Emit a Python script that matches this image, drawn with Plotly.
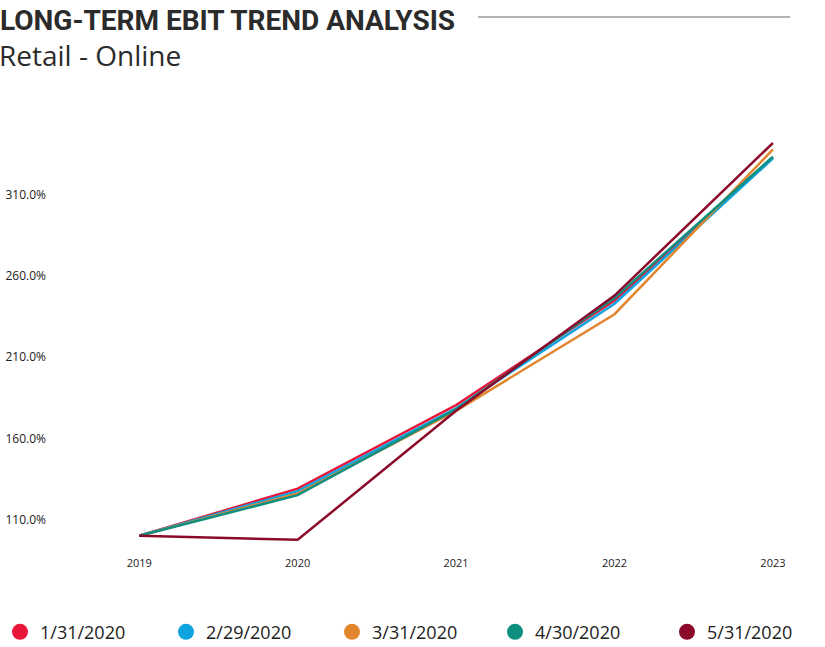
import plotly.graph_objects as go

years = ["2019", "2020", "2021", "2022", "2023"]
series_names = ["1/31/2020", "2/29/2020", "3/31/2020", "4/30/2020", "5/31/2020"]
s_jan = [100.0, 129.0, 180.5, 245.0, 333.0]
s_feb = [100.0, 127.5, 178.5, 243.0, 332.5]
s_mar = [100.0, 126.0, 177.0, 236.5, 338.0]
s_apr = [100.0, 125.0, 178.0, 246.5, 333.5]
s_may = [100.0, 97.5, 177.0, 248.0, 342.0]
tick_vals = [110, 160, 210, 260, 310]
tick_text = ["110.0%", "160.0%", "210.0%", "260.0%", "310.0%"]

colors = ["#E8173A", "#0FA3E0", "#E2862E", "#0F8F80", "#8B0A2A"]
all_series = [s_jan, s_feb, s_mar, s_apr, s_may]
legend_groups = ["legend", "legend", "legend", "legend2", "legend2"]

W, H = 825, 647
L, R, T, B = 60, 18, 130, 95
pw, ph = W - L - R, H - T - B

fig = go.Figure()
xs = list(range(len(years)))
for name, vals, c in zip(series_names, all_series, colors):
    fig.add_trace(go.Scatter(x=xs, y=vals, mode="lines", name=name,
                             line=dict(color=c, width=2.5), showlegend=False))
for name, c, lg in zip(series_names, colors, legend_groups):
    fig.add_trace(go.Scatter(x=[None], y=[None], mode="markers", name=name, legend=lg,
                             marker=dict(color=c, size=20, symbol="circle")))

leg_common = dict(orientation="h", xref="container", yref="container",
                  xanchor="left", y=0.023, yanchor="middle",
                  font=dict(size=18, color="#222"), itemsizing="trace")

fig.update_layout(
    width=W, height=H,
    paper_bgcolor="white", plot_bgcolor="white",
    margin=dict(l=L, r=R, t=T, b=B),
    font=dict(family="Open Sans, sans-serif", color="#222"),
    xaxis=dict(tickmode="array", tickvals=xs, ticktext=years, range=[-0.5, 4.215],
               showgrid=False, zeroline=False, showline=False, automargin=False,
               ticklabelstandoff=3,
               tickfont=dict(size=11, color="#222")),
    yaxis=dict(tickmode="array", tickvals=tick_vals, ticktext=tick_text, range=[90, 350],
               showgrid=False, zeroline=False, showline=False, automargin=False,
               ticklabelstandoff=13,
               tickfont=dict(size=12, color="#222")),
    legend=dict(x=0, entrywidth=121, **leg_common),
    legend2=dict(x=495 / W, entrywidth=127, **leg_common),
    showlegend=True,
)

fig.add_annotation(text="<b>LONG-TERM EBIT TREND ANALYSIS</b>", xref="paper", yref="paper",
                   x=-L / pw, y=1 + (T - 2) / ph, xanchor="left", yanchor="top",
                   showarrow=False, xshift=-2,
                   font=dict(size=28, family="Roboto, sans-serif", color="#2b2b2b"))
fig.add_annotation(text="Retail - Online", xref="paper", yref="paper",
                   x=-L / pw, y=1 + (T - 34) / ph, xanchor="left", yanchor="top",
                   showarrow=False, xshift=-3,
                   font=dict(size=28, family="Open Sans, sans-serif", color="#2b2b2b"))
fig.add_shape(type="line", xref="paper", yref="paper",
              x0=(478 - L) / pw, x1=(790 - L) / pw,
              y0=1 + (T - 17) / ph, y1=1 + (T - 17) / ph,
              line=dict(color="#666", width=1))
fig.write_html("out.html", config={"displayModeBar": False},
               post_script="document.body.style.margin='0';")
